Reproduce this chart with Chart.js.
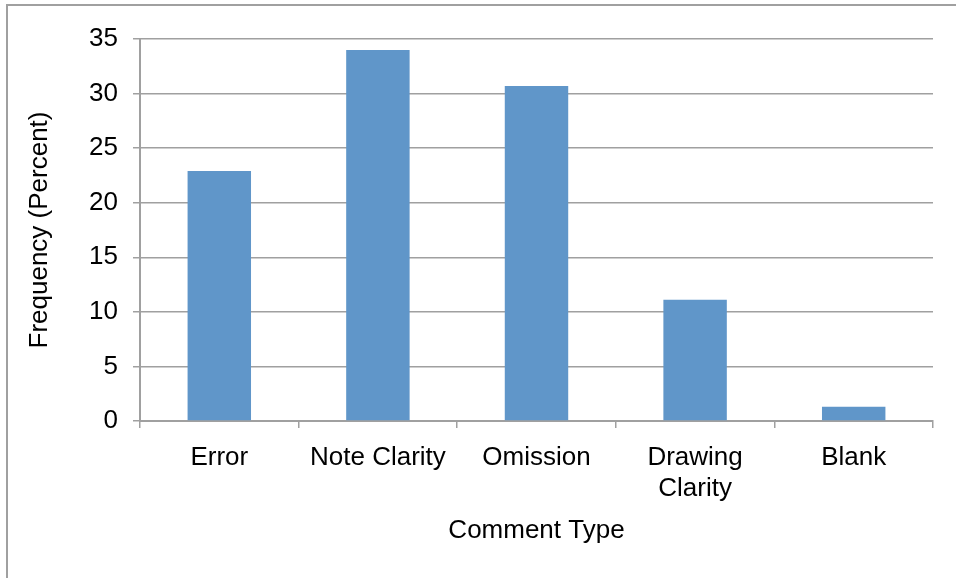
<!DOCTYPE html>
<html>
<head>
<meta charset="utf-8">
<script src="https://cdn.jsdelivr.net/npm/chart.js@4/dist/chart.umd.min.js"></script>
<style>
    html, body { margin: 0; padding: 0; background: #fff; }
    #wrap { position: relative; width: 956px; height: 578px; overflow: hidden; }
    #frame {
        position: absolute; left: 6px; top: 4px; width: 1200px; height: 1200px;
        border-left: 2px solid #a0a0a0; border-top: 2px solid #a0a0a0;
    }
    #chart { position: absolute; left: 0; top: 0; }
</style>
</head>
<body>
<div id="wrap">
    <div id="frame"></div>
    <canvas id="chart" width="956" height="578"></canvas>
</div>
<script>
// Data
const categories = ['Error', 'Note Clarity', 'Omission', ['Drawing', 'Clarity'], 'Blank'];
const frequency = [22.9, 34.0, 30.7, 11.1, 1.3];
const yTicks = [0, 5, 10, 15, 20, 25, 30, 35];

const gridColor = '#a0a0a0';
const textColor = '#000';
const fontFamily = '"Liberation Sans", Arial, sans-serif';
const pad = { left: 22, top: 39, right: 23, bottom: 0 };

const ctx = document.getElementById('chart').getContext('2d');

new Chart(ctx, {
    type: 'bar',
    data: {
        labels: categories,
        datasets: [{
            label: 'Frequency',
            data: frequency,
            backgroundColor: '#6096c9',
            borderWidth: 0,
            barPercentage: 0.4,
            categoryPercentage: 1.0
        }]
    },
    options: {
        responsive: false,
        animation: false,
        layout: { padding: pad },
        plugins: {
            legend: { display: false },
            tooltip: { enabled: false }
        },
        scales: {
            x: {
                afterFit: function(scale) {
                    scale.height = 578 - 421 - pad.bottom;
                },
                grid: {
                    display: true,
                    drawOnChartArea: false,
                    drawTicks: true,
                    tickLength: 7,
                    color: gridColor,
                    lineWidth: 1.5,
                    offset: true
                },
                border: { display: true, color: gridColor, width: 2 },
                ticks: {
                    color: textColor,
                    padding: 14,
                    maxRotation: 0,
                    autoSkip: false,
                    font: { family: fontFamily, size: 26, lineHeight: 1.2 }
                },
                title: {
                    display: true,
                    text: 'Comment Type',
                    color: textColor,
                    padding: { top: 0, bottom: 32 },
                    font: { family: fontFamily, size: 26 }
                }
            },
            y: {
                min: 0,
                max: 35,
                afterFit: function(scale) {
                    scale.width = 140 - pad.left;
                },
                afterBuildTicks: function(scale) {
                    scale.ticks = yTicks.map(v => ({ value: v }));
                },
                grid: {
                    color: gridColor,
                    lineWidth: 1.5,
                    drawTicks: true,
                    tickLength: 7
                },
                border: { display: true, color: gridColor, width: 2 },
                ticks: {
                    color: textColor,
                    padding: 15,
                    font: { family: fontFamily, size: 26 }
                },
                title: {
                    display: true,
                    text: 'Frequency (Percent)',
                    color: textColor,
                    padding: { top: 2, bottom: 0 },
                    font: { family: fontFamily, size: 26 }
                }
            }
        }
    }
});
</script>
</body>
</html>
